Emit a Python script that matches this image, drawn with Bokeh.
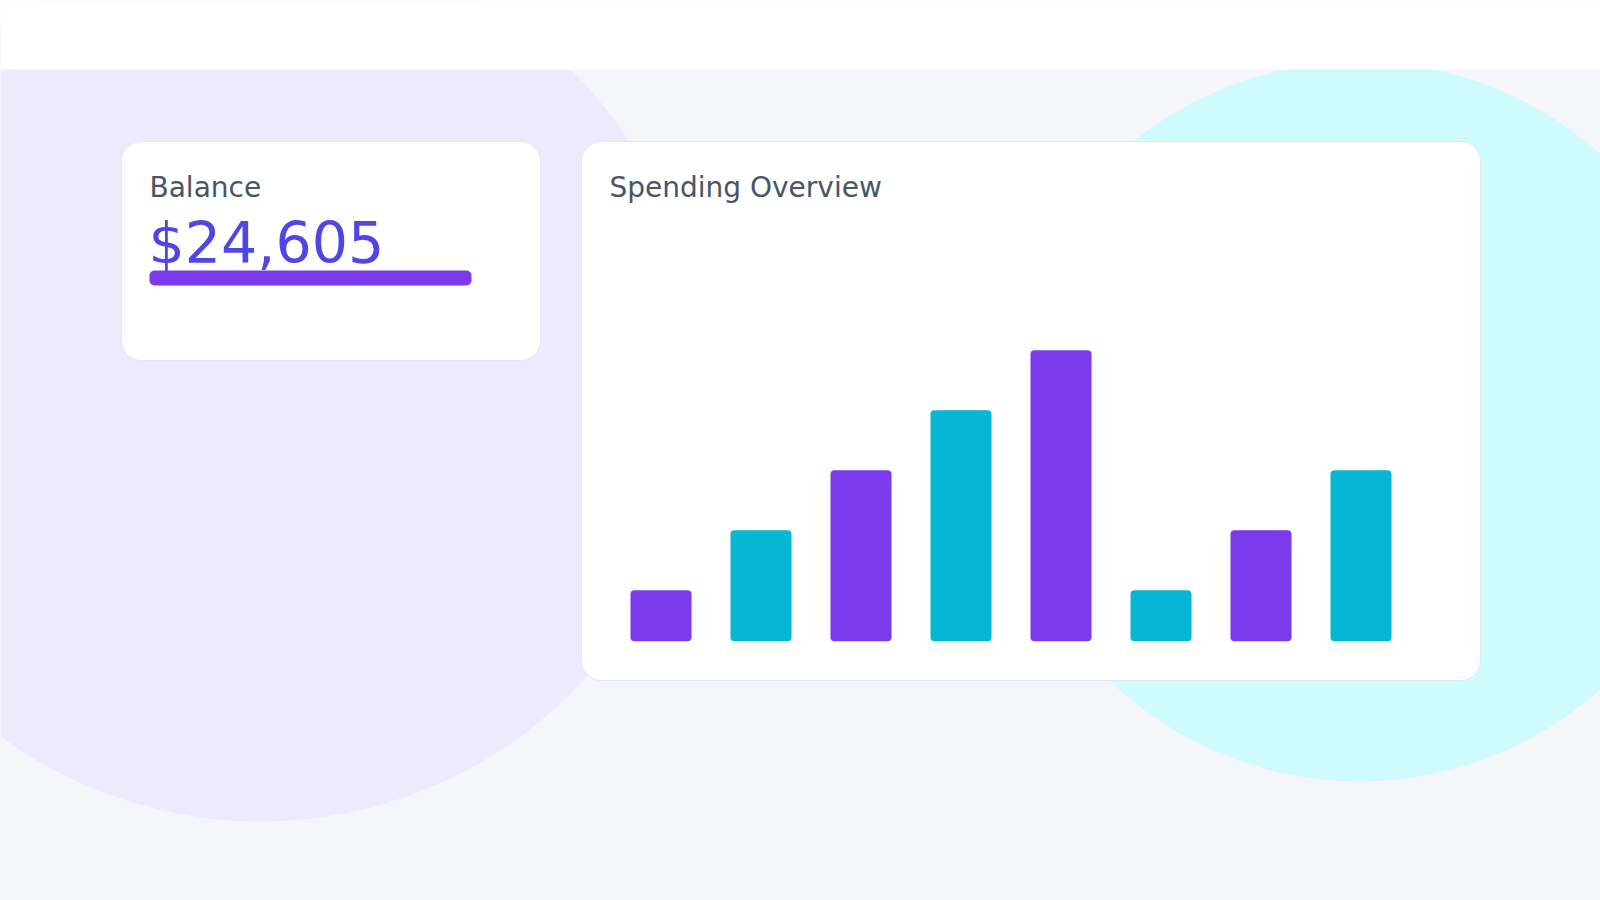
from bokeh.plotting import figure
from bokeh.models import Range1d, ColumnDataSource
from bokeh.core.properties import value
from bokeh.embed import file_html
from bokeh.resources import INLINE

# ---------------- data ----------------
categories = ["W1", "W2", "W3", "W4", "W5", "W6", "W7", "W8"]
spending = [85, 185, 285, 385, 485, 85, 185, 285]
bar_colors = ["#7C3AED", "#06B6D4", "#7C3AED", "#06B6D4",
              "#7C3AED", "#06B6D4", "#7C3AED", "#06B6D4"]
balance_label = "Balance"
balance_value = "$24,605"
chart_title = "Spending Overview"

# ---------------- layout constants (page pixels) ----------------
W, H = 1600, 900
FONT = "DejaVu Sans"

p = figure(width=W, height=H, x_range=Range1d(0, W), y_range=Range1d(H, 0),
           output_backend="svg", toolbar_location=None, min_border=0,
           x_axis_location=None, y_axis_location=None, title_location=None,
           outline_line_color=None, background_fill_color="#F5F6FA",
           border_fill_color="#F5F6FA")
p.grid.visible = False

# page background
p.quad(left=[-20], right=[W + 20], top=[69], bottom=[H + 20], fill_color="#F5F6FA", line_color=None)
# decorative circles
p.circle(x=[260], y=[381], radius=440, fill_color="#EDE9FE", line_color=None)
p.circle(x=[1359], y=[421], radius=360, fill_color="#CFFAFE", line_color=None)
# white header band on top of circles
p.quad(left=[-20], right=[W + 20], top=[-20], bottom=[69], fill_color="#FFFFFF", line_color=None)

# cards
p.quad(left=[121, 581], right=[540, 1480], top=[141, 141], bottom=[360, 680],
       fill_color="#FFFFFF", line_color="#E2E8F0", line_width=1, border_radius=20)

# texts
p.text(x=[149, 609], y=[186.5, 186.5], text=[balance_label, chart_title],
       text_font=value(FONT), text_font_size="28px", text_color="#475569",
       text_baseline="alphabetic", text_align="left")
p.text(x=[148], y=[242], text=[balance_value], text_font=value(FONT),
       text_font_size="57px", text_color="#4F46E5",
       text_baseline="alphabetic", text_align="left")

# balance accent bar
p.quad(left=[149], right=[471], top=[270], bottom=[285], fill_color="#7C3AED",
       line_color=None, border_radius=5)

# ---------------- bar chart via its own scales ----------------
# bar i centre at 660.5 + 100*i px, baseline at 640.7 px from top, 0.6 px per unit
px_per_cat = 100.0
first_center = 660.5
px_per_unit = 0.6
baseline_px = 640.7
p.extra_x_ranges = {"bars": Range1d(-first_center / px_per_cat, (W - first_center) / px_per_cat)}
p.extra_y_ranges = {"bars": Range1d(-(H - baseline_px) / px_per_unit, baseline_px / px_per_unit)}

src = ColumnDataSource(dict(idx=list(range(len(categories))), cat=categories,
                            val=spending, color=bar_colors))
p.vbar(x="idx", top="val", bottom=0, width=0.61, source=src, fill_color="color",
       line_color=None, border_radius=4, x_range_name="bars", y_range_name="bars")

open("out.html", "w").write(file_html(p, INLINE))
